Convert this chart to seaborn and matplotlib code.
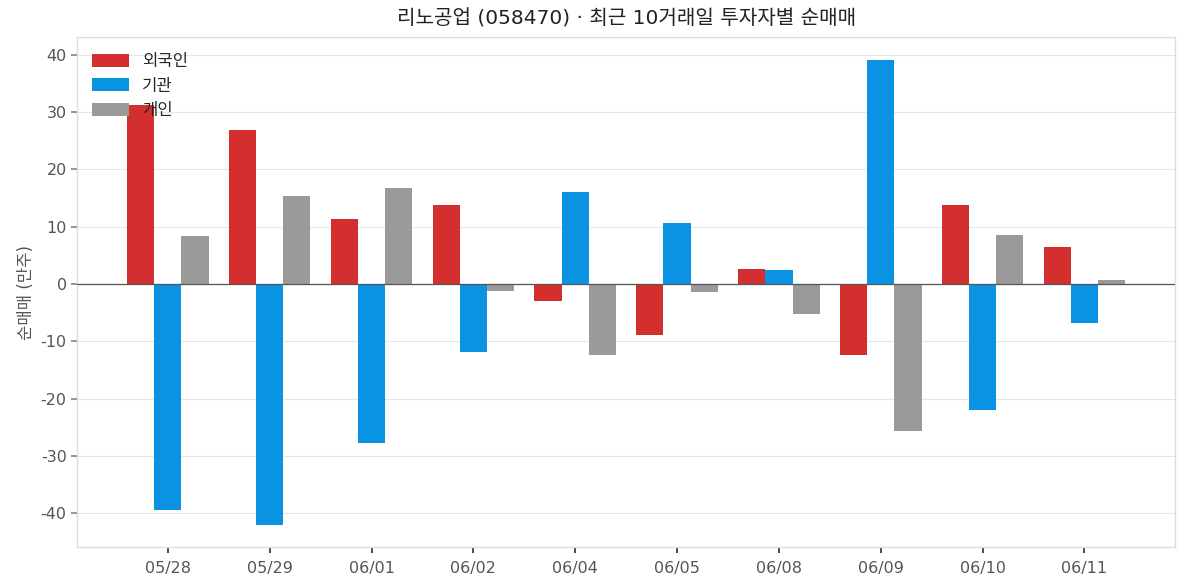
import matplotlib
matplotlib.use("Agg")
import matplotlib.pyplot as plt
import seaborn as sns
import pandas as pd

dates = ["05/28", "05/29", "06/01", "06/02", "06/04", "06/05", "06/08", "06/09", "06/10", "06/11"]
foreign = [31.3, 26.9, 11.4, 13.8, -3.0, -8.9, 2.6, -12.4, 13.8, 6.5]
institution = [-39.5, -42.0, -27.8, -11.9, 16.1, 10.7, 2.4, 39.0, -22.0, -6.8]
individual = [8.4, 15.4, 16.8, -1.2, -12.4, -1.4, -5.2, -25.7, 8.6, 0.7]
series_names = ["외국인", "기관", "개인"]
colors = ["#D32F2F", "#0A93E2", "#9A9A9A"]

rows = []
for name, vals in zip(series_names, [foreign, institution, individual]):
    for d, v in zip(dates, vals):
        rows.append({"date": d, "investor": name, "value": v})
df = pd.DataFrame(rows)

sns.set_theme(style="white")
plt.rcParams["font.family"] = ["DejaVu Sans", "Noto Sans CJK KR"]
plt.rcParams["axes.unicode_minus"] = False

fig, ax = plt.subplots(figsize=(11.87, 5.87), dpi=100)
fig.subplots_adjust(left=0.065, right=0.99, top=0.937, bottom=0.068)

sns.barplot(data=df, x="date", y="value", hue="investor", order=dates,
            hue_order=series_names, palette=colors, width=0.8, saturation=1,
            errorbar=None, ax=ax, zorder=3, linewidth=0, edgecolor="none")

ax.axhline(0, color="#555555", linewidth=0.9, zorder=4)
ax.set_xlim(-0.89, 9.89)
ax.set_ylim(-45.9, 43.1)
ax.set_yticks([-40, -30, -20, -10, 0, 10, 20, 30, 40])
ax.yaxis.grid(True, color="#E6E6E6", linewidth=0.8, zorder=0)
ax.set_axisbelow(True)

for s in ax.spines.values():
    s.set_color("#DDDDDD")
    s.set_linewidth(1.0)

ax.tick_params(axis="x", length=4, color="#333333", labelsize=11.5, labelcolor="#555555", pad=6, bottom=True)
ax.tick_params(axis="y", length=4, color="#888888", labelsize=11.5, labelcolor="#555555", left=True)

ax.set_xlabel("")
ax.set_ylabel("순매매 (만주)", fontsize=12, color="#555555")
ax.set_title("리노공업 (058470) · 최근 10거래일 투자자별 순매매", fontsize=14.5, color="#222222", pad=9)

leg = ax.legend(loc="upper left", frameon=False, fontsize=12, handlelength=2.2,
                handleheight=0.8, borderaxespad=0.5, labelspacing=0.4)

fig.savefig("out.png", dpi=100)
